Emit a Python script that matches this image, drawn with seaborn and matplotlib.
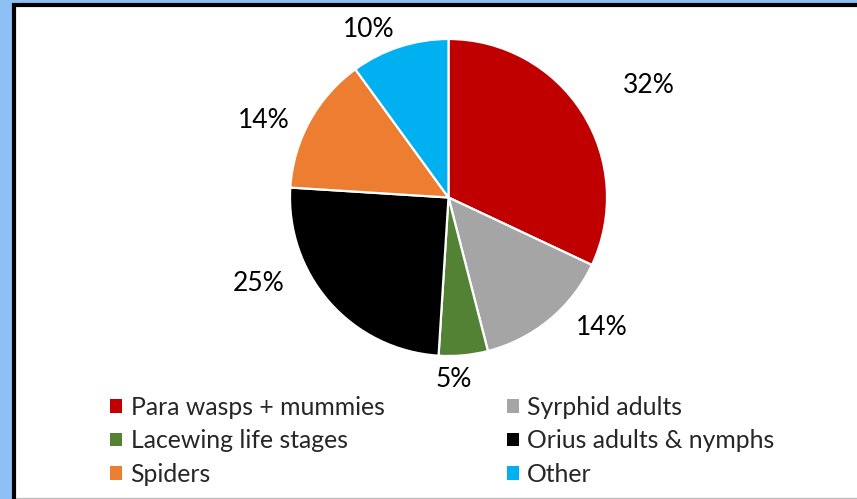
import matplotlib
matplotlib.use("Agg")
import matplotlib.pyplot as plt
import matplotlib.patches as mpatches
import seaborn as sns

# %% datos
categorias = ["Para wasps + mummies", "Syrphid adults", "Lacewing life stages",
              "Orius adults & nymphs", "Spiders", "Other"]
porcentajes = [32, 14, 5, 25, 14, 10]
etiquetas = [f"{p}%" for p in porcentajes]

colores = sns.color_palette(["#C00000", "#A5A5A5", "#548235",
                             "#000000", "#ED7D31", "#00B0F0"])

# posicion de cada etiqueta (en radios del pie, relativo al centro)
pos_etiquetas = [(1.266, 0.709), (0.968, -0.823), (0.032, -1.146),
                 (-1.196, -0.544), (-1.165, 0.487), (-0.506, 1.057)]

# %% estilo
sns.set_style("white")
plt.rcParams["font.family"] = ["Lato", "DejaVu Sans"]

W, H = 857, 499
fig = plt.figure(figsize=(W / 100, H / 100), dpi=100)
fig.patch.set_facecolor("#8EC0F6")

# marco blanco con borde negro (izq y arriba)
marco = mpatches.Rectangle((14 / W, -0.05), 1.2, (H - 4.5) / H + 0.05,
                           transform=fig.transFigure, facecolor="white",
                           edgecolor="black", linewidth=3, zorder=-5)
fig.patches.append(marco)
fig.add_artist(plt.Line2D([16 / W, 1], [1.5 / H, 1.5 / H], color="#BFBFBF",
                          linewidth=1, transform=fig.transFigure, zorder=-4))

# %% pie
cx, cy, R = 448.5, 197.5, 158.5
ax = fig.add_axes([(cx - R) / W, (H - cy - R) / H, 2 * R / W, 2 * R / H])
wedges, _ = ax.pie(porcentajes, colors=colores, startangle=90, counterclock=False,
                   radius=1, wedgeprops=dict(edgecolor="white", linewidth=1.6))
ax.set_xlim(-1, 1)
ax.set_ylim(-1, 1)
ax.set_aspect("equal")
ax.axis("off")

for txt, (x, y) in zip(etiquetas, pos_etiquetas):
    ax.text(x, y, txt, ha="center", va="center", fontsize=19, color="#000000")

# %% leyenda
handles = [mpatches.Patch(facecolor=c, edgecolor="none", label=l)
           for c, l in zip(colores, categorias)]
# orden por filas (Excel) -> matplotlib llena por columnas
orden = [0, 2, 4, 1, 3, 5]
leg = fig.legend([handles[i] for i in orden], [categorias[i] for i in orden],
                 ncol=2, loc="upper left", bbox_to_anchor=(110 / W, (H - 396) / H),
                 frameon=False, fontsize=17.8, handlelength=0.48, handleheight=0.48,
                 handletextpad=0.35, columnspacing=4.95, labelspacing=0.42,
                 borderpad=0, borderaxespad=0)

fig.savefig("out.png", dpi=100)
